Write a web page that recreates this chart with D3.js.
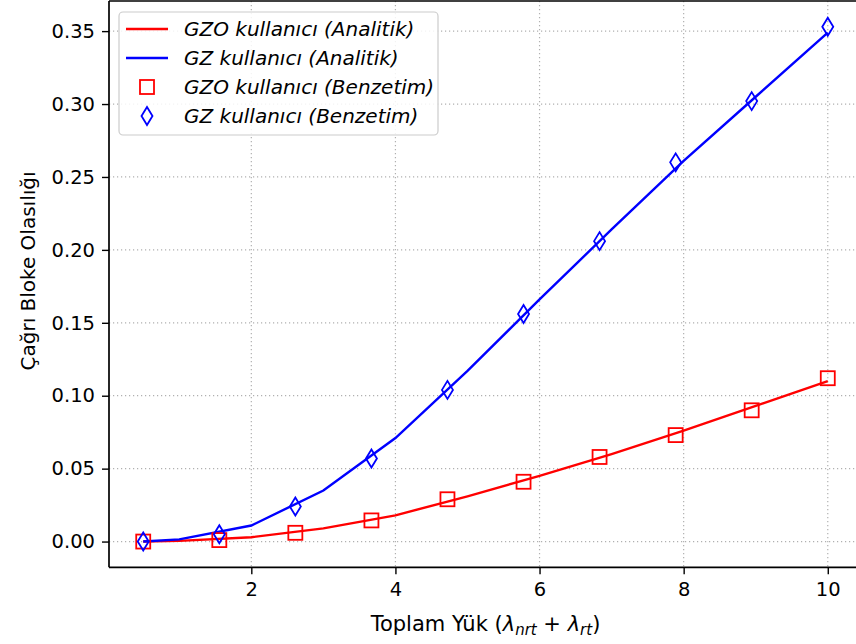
<!DOCTYPE html>
<html>
<head>
<meta charset="utf-8">
<script src="https://cdn.jsdelivr.net/npm/d3@7/dist/d3.min.js"></script>
<style>
  html, body { margin: 0; padding: 0; background: #fff; }
  svg { display: block; font-family: "DejaVu Sans", sans-serif; }
</style>
</head>
<body>
<svg id="chart" width="856" height="644"></svg>
<script>
// ---- data ----
const analyticX = [0.5, 1, 2, 3, 4, 5, 6, 7, 8, 9, 10];
const gzoAnalytic = [0.0, 0.0005, 0.003, 0.009, 0.018, 0.031, 0.045, 0.060, 0.076, 0.093, 0.110];
const gzAnalytic  = [0.0, 0.0015, 0.011, 0.035, 0.071, 0.117, 0.166, 0.214, 0.261, 0.305, 0.349];

const simX = [0.5, 1.556, 2.611, 3.667, 4.722, 5.778, 6.833, 7.889, 8.944, 10];
const gzoSim = [0.0, 0.001, 0.006, 0.0145, 0.029, 0.041, 0.058, 0.073, 0.090, 0.112];
const gzSim  = [0.0, 0.005, 0.024, 0.057, 0.104, 0.156, 0.206, 0.260, 0.302, 0.353];

const xTicks = [2, 4, 6, 8, 10];
const yTicks = [0.00, 0.05, 0.10, 0.15, 0.20, 0.25, 0.30, 0.35];

const legendLabels = [
  "GZO kullanıcı (Analitik)",
  "GZ kullanıcı (Analitik)",
  "GZO kullanıcı (Benzetim)",
  "GZ kullanıcı (Benzetim)"
];

// ---- layout ----
const svg = d3.select("#chart");
const L = 109, T = 1, R = 862, B = 567.3;

const allX = analyticX.concat(simX);
const allY = gzoAnalytic.concat(gzAnalytic, gzoSim, gzSim);
const xMin = d3.min(allX), xMax = d3.max(allX);
const yMin = d3.min(allY), yMax = d3.max(allY);
const xPad = 0.05 * (xMax - xMin), yPad = 0.05 * (yMax - yMin);

const x = d3.scaleLinear().domain([xMin - xPad, xMax + xPad]).range([L, R]);
const y = d3.scaleLinear().domain([yMin - yPad, yMax + yPad]).range([B, T]);

// grid
const grid = svg.append("g");
grid.selectAll("line.gx").data(xTicks).enter().append("line")
  .attr("x1", d => x(d)).attr("x2", d => x(d)).attr("y1", T).attr("y2", B)
  .attr("stroke", "#b0b0b0").attr("stroke-width", 1.2).attr("stroke-dasharray", "1.2,2.8");
grid.selectAll("line.gy").data(yTicks).enter().append("line")
  .attr("x1", L).attr("x2", R).attr("y1", d => y(d)).attr("y2", d => y(d))
  .attr("stroke", "#b0b0b0").attr("stroke-width", 1.2).attr("stroke-dasharray", "1.2,2.8");

// axes
const xAxis = d3.axisBottom(x).tickValues(xTicks).tickFormat(d3.format("d")).tickSize(7).tickPadding(8);
const yAxis = d3.axisLeft(y).tickValues(yTicks).tickFormat(d3.format(".2f")).tickSize(7).tickPadding(7);

const gx = svg.append("g").attr("transform", `translate(0,${B})`).call(xAxis);
const gy = svg.append("g").attr("transform", `translate(${L},0)`).call(yAxis);
[gx, gy].forEach(g => {
  g.select(".domain").remove();
  g.selectAll(".tick line").attr("stroke", "#000").attr("stroke-width", 1.4);
  g.selectAll(".tick text").attr("fill", "#000").style("font-size", "19.5px")
    .style("font-family", "'DejaVu Sans', sans-serif");
});

// lines
const line = d3.line().x(d => x(d[0])).y(d => y(d[1]));
svg.append("clipPath").attr("id", "clip").append("rect")
  .attr("x", L).attr("y", T).attr("width", R - L).attr("height", B - T);
const plot = svg.append("g").attr("clip-path", "url(#clip)");

plot.append("path").datum(d3.zip(analyticX, gzoAnalytic)).attr("d", line)
  .attr("fill", "none").attr("stroke", "#ff0000").attr("stroke-width", 2.4);
plot.append("path").datum(d3.zip(analyticX, gzAnalytic)).attr("d", line)
  .attr("fill", "none").attr("stroke", "#0000ff").attr("stroke-width", 2.4);

// markers
const sq = 14;
plot.selectAll("rect.sq").data(d3.zip(simX, gzoSim)).enter().append("rect")
  .attr("x", d => x(d[0]) - sq / 2).attr("y", d => y(d[1]) - sq / 2)
  .attr("width", sq).attr("height", sq)
  .attr("fill", "none").attr("stroke", "#ff0000").attr("stroke-width", 1.8);

const dw = 5.5, dh = 9;
const diamond = `M0,${-dh} L${dw},0 L0,${dh} L${-dw},0 Z`;
plot.selectAll("path.dm").data(d3.zip(simX, gzSim)).enter().append("path")
  .attr("transform", d => `translate(${x(d[0])},${y(d[1])})`)
  .attr("d", diamond)
  .attr("fill", "none").attr("stroke", "#0000ff").attr("stroke-width", 1.8);

// spines
svg.append("line").attr("x1", L).attr("x2", L).attr("y1", T).attr("y2", B)
  .attr("stroke", "#000").attr("stroke-width", 1.7);
svg.append("line").attr("x1", L).attr("x2", R).attr("y1", B).attr("y2", B)
  .attr("stroke", "#000").attr("stroke-width", 1.7);
svg.append("line").attr("x1", L).attr("x2", R).attr("y1", T).attr("y2", T)
  .attr("stroke", "#000").attr("stroke-width", 1.7);

// axis labels
const xl = svg.append("text").attr("x", (L + R) / 2).attr("y", 631)
  .attr("text-anchor", "middle").style("font-size", "21px").attr("fill", "#000");
xl.append("tspan").text("Toplam Yük (");
xl.append("tspan").style("font-style", "italic").text("λ");
xl.append("tspan").style("font-style", "italic").style("font-size", "15px").attr("dy", 4).text("nrt");
xl.append("tspan").attr("dy", -4).text(" + ");
xl.append("tspan").style("font-style", "italic").text("λ");
xl.append("tspan").style("font-style", "italic").style("font-size", "15px").attr("dy", 4).text("rt");
xl.append("tspan").attr("dy", -4).text(")");

svg.append("text").attr("transform", `translate(35,271) rotate(-90)`)
  .attr("text-anchor", "middle").style("font-size", "20px").attr("fill", "#000")
  .text("Çağrı Bloke Olasılığı");

// legend
const lg = svg.append("g");
lg.append("rect").attr("x", 119).attr("y", 12).attr("width", 319).attr("height", 123)
  .attr("rx", 4).attr("fill", "#fff").attr("fill-opacity", 0.85)
  .attr("stroke", "#cccccc").attr("stroke-width", 1.2);
const rowY = [29, 58, 87, 116];
const colors = ["#ff0000", "#0000ff", "#ff0000", "#0000ff"];
legendLabels.forEach((lab, i) => {
  const cy = rowY[i];
  if (i < 2) {
    lg.append("line").attr("x1", 126).attr("x2", 168).attr("y1", cy).attr("y2", cy)
      .attr("stroke", colors[i]).attr("stroke-width", 2.4);
  } else if (i === 2) {
    lg.append("rect").attr("x", 147 - sq / 2).attr("y", cy - sq / 2)
      .attr("width", sq).attr("height", sq)
      .attr("fill", "none").attr("stroke", colors[i]).attr("stroke-width", 1.8);
  } else {
    lg.append("path").attr("transform", `translate(147,${cy})`).attr("d", diamond)
      .attr("fill", "none").attr("stroke", colors[i]).attr("stroke-width", 1.8);
  }
  lg.append("text").attr("x", 184).attr("y", cy + 7)
    .style("font-size", "20px").style("font-style", "italic").attr("fill", "#000")
    .text(lab);
});
</script>
</body>
</html>
